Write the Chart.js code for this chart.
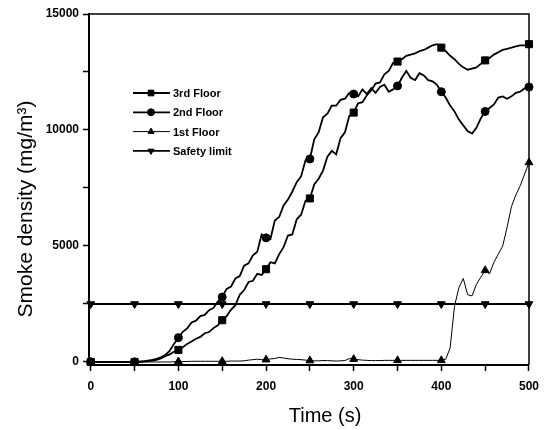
<!DOCTYPE html>
<html>
<head>
<meta charset="utf-8">
<script src="https://cdn.jsdelivr.net/npm/chart.js@4.4.1/dist/chart.umd.min.js"></script>
<style>
html, body { margin: 0; padding: 0; background: #fff; }
</style>
</head>
<body>
<canvas id="lineChart" width="547" height="430"></canvas>
<script>
// time axis, seconds
const times = [0,5,10,15,20,25,30,35,40,45,50,55,60,65,70,75,80,85,90,95,
    100,105,110,115,120,125,130,135,140,145,150,155,160,165,170,175,180,185,190,195,
    200,205,210,215,220,225,230,235,240,245,250,255,260,265,270,275,280,285,290,295,
    300,305,310,315,320,325,330,335,340,345,350,355,360,365,370,375,380,385,390,395,
    400,405,410,415,420,425,430,435,440,445,450,455,460,465,470,475,480,485,490,495,500];

const floor3 = [0,0,0,0,0,0,0,0,0,0,0,10,20,40,60,90,150,250,330,440,
    520,640,780,880,1000,1080,1240,1290,1460,1580,1800,1980,2250,2450,2900,3100,3450,3500,3800,3750,
    4000,4300,4250,4650,4950,5450,5500,6150,6350,6950,7050,7650,7900,8250,8850,9100,8950,9650,9900,10600,
    10750,11150,11200,11500,11700,12000,12050,12400,12550,12900,12950,13050,13200,13250,13300,13400,13450,13550,13650,13700,
    13550,13400,13200,13050,12850,12700,12600,12650,12700,12850,13000,13100,13250,13350,13450,13500,13550,13600,13650,13650,13700];

const floor2 = [0,0,0,0,0,0,0,0,0,0,0,0,30,60,90,130,200,300,480,780,
    1050,1300,1450,1700,1780,1980,2030,2230,2330,2600,2800,3150,3250,3600,3700,4150,4250,4600,4750,5500,
    5350,5300,6100,6250,6750,7000,7350,7750,8000,8700,8750,9600,9900,10550,10700,11050,11050,11300,11350,11600,
    11550,11450,11750,11550,11800,11600,11850,11950,11650,11750,11900,12250,12550,12250,12150,12450,12350,12150,12100,11950,
    11650,11400,11050,10800,10450,10200,9950,9850,10100,10500,10800,10950,11100,11400,11450,11350,11450,11600,11650,11800,11850];

const floor1 = [0,0,0,0,0,0,0,0,0,0,0,0,0,0,0,0,0,0,0,10,
    20,20,20,30,30,30,30,30,30,30,30,30,40,40,40,50,80,100,120,100,
    100,130,150,200,170,140,120,110,100,80,60,50,50,60,60,50,40,50,60,150,
    120,100,80,70,60,60,60,70,70,70,70,70,70,70,70,70,70,70,70,70,
    70,120,600,2400,3200,3600,2900,2850,3350,3650,3950,3800,4300,4650,5000,5800,6700,7200,7600,8100,8600];

const safety = [2500,2500,2500,2500,2500,2500,2500,2500,2500,2500,2500,2500,2500,2500,2500,2500,2500,2500,2500,2500,
    2500,2500,2500,2500,2500,2500,2500,2500,2500,2500,2500,2500,2500,2500,2500,2500,2500,2500,2500,2500,
    2500,2500,2500,2500,2500,2500,2500,2500,2500,2500,2500,2500,2500,2500,2500,2500,2500,2500,2500,2500,
    2500,2500,2500,2500,2500,2500,2500,2500,2500,2500,2500,2500,2500,2500,2500,2500,2500,2500,2500,2500,
    2500,2500,2500,2500,2500,2500,2500,2500,2500,2500,2500,2500,2500,2500,2500,2500,2500,2500,2500,2500,2500];

const xTicks = [0,50,100,150,200,250,300,350,400,450,500];
const xLabels = [0,100,200,300,400,500];
const yTicks = [0,2500,5000,7500,10000,12500,15000];
const yLabels = [0,5000,10000,15000];

const toPoints = vals => times.map((t, i) => ({ x: t, y: vals[i] }));
const markerAt = size => ctx => (ctx.raw && ctx.raw.x % 50 === 0 ? size : 0);

function series(label, vals, style, size, rotation, width) {
    return {
        label: label,
        data: toPoints(vals),
        borderColor: '#000',
        backgroundColor: '#000',
        borderWidth: width,
        pointStyle: style,
        rotation: rotation,
        pointRadius: markerAt(size),
        pointBorderWidth: 1,
        tension: 0,
        clip: false
    };
}

const tickFont = { family: '"Liberation Sans", Arial, sans-serif', size: 12, weight: 'bold' };

const extras = {
    id: 'extras',
    afterDraw(chart) {
        const { ctx, chartArea: a } = chart;
        ctx.save();
        // frame top/right
        ctx.strokeStyle = '#000';
        ctx.lineWidth = 1.5;
        ctx.beginPath();
        ctx.moveTo(a.left, a.top);
        ctx.lineTo(a.right, a.top);
        ctx.lineTo(a.right, a.bottom);
        ctx.stroke();

        // axis titles
        ctx.fillStyle = '#000';
        ctx.font = '20px "Liberation Sans", Arial, sans-serif';
        ctx.textAlign = 'center';
        ctx.textBaseline = 'alphabetic';
        ctx.fillText('Time (s)', 325, 422);
        ctx.save();
        ctx.translate(32, 209);
        ctx.rotate(-Math.PI / 2);
        ctx.font = '21px "Liberation Sans", Arial, sans-serif';
        ctx.fillText('Smoke density (mg/m\u00B3)', 0, 0);
        ctx.restore();

        // legend
        ctx.font = 'bold 11px "Liberation Sans", Arial, sans-serif';
        ctx.textAlign = 'left';
        ctx.textBaseline = 'middle';
        chart.data.datasets.forEach((ds, i) => {
            const y = 93 + i * 19.3;
            ctx.strokeStyle = '#000';
            ctx.lineWidth = ds.borderWidth;
            ctx.beginPath();
            ctx.moveTo(133, y);
            ctx.lineTo(170, y);
            ctx.stroke();
            ctx.fillStyle = '#000';
            ctx.lineWidth = 1;
            Chart.helpers.drawPoint(ctx, {
                pointStyle: ds.pointStyle,
                rotation: ds.rotation,
                radius: ds.pointStyle === 'rect' ? 4 : 3.5,
                borderWidth: 1
            }, 151, y);
            ctx.fillText(ds.label, 173, y + 1);
        });
        ctx.restore();
    }
};

new Chart(document.getElementById('lineChart'), {
    type: 'line',
    data: {
        datasets: [
            series('3rd Floor', floor3, 'rect', 5, 0, 1.8),
            series('2nd Floor', floor2, 'circle', 4, 0, 1.8),
            series('1st Floor', floor1, 'triangle', 4.5, 0, 1),
            series('Safety limit', safety, 'triangle', 4.5, 180, 1.8)
        ]
    },
    options: {
        responsive: false,
        animation: false,
        layout: { padding: { top: 14, right: 12, left: 0, bottom: 0 } },
        plugins: {
            legend: { display: false },
            tooltip: { enabled: false }
        },
        scales: {
            x: {
                type: 'linear',
                min: -2,
                max: 500,
                afterBuildTicks: scale => { scale.ticks = xTicks.map(v => ({ value: v })); },
                afterFit: scale => { scale.height = 65; },
                grid: {
                    drawOnChartArea: false,
                    tickLength: 6,
                    tickColor: '#000',
                    tickWidth: 1.5
                },
                border: { color: '#000', width: 2 },
                ticks: {
                    autoSkip: false,
                    maxRotation: 0,
                    padding: 8,
                    color: '#000',
                    font: tickFont,
                    callback: v => (xLabels.includes(v) ? String(v) : '')
                }
            },
            y: {
                type: 'linear',
                min: -130,
                max: 15000,
                afterBuildTicks: scale => { scale.ticks = yTicks.map(v => ({ value: v })); },
                afterFit: scale => { scale.width = 89; },
                grid: {
                    drawOnChartArea: false,
                    tickLength: 6,
                    tickColor: '#000',
                    tickWidth: 1.5
                },
                border: { color: '#000', width: 2 },
                ticks: {
                    autoSkip: false,
                    padding: 4,
                    color: '#000',
                    font: tickFont,
                    callback: v => (yLabels.includes(v) ? String(v) : '')
                }
            }
        }
    },
    plugins: [extras]
});
</script>
</body>
</html>
